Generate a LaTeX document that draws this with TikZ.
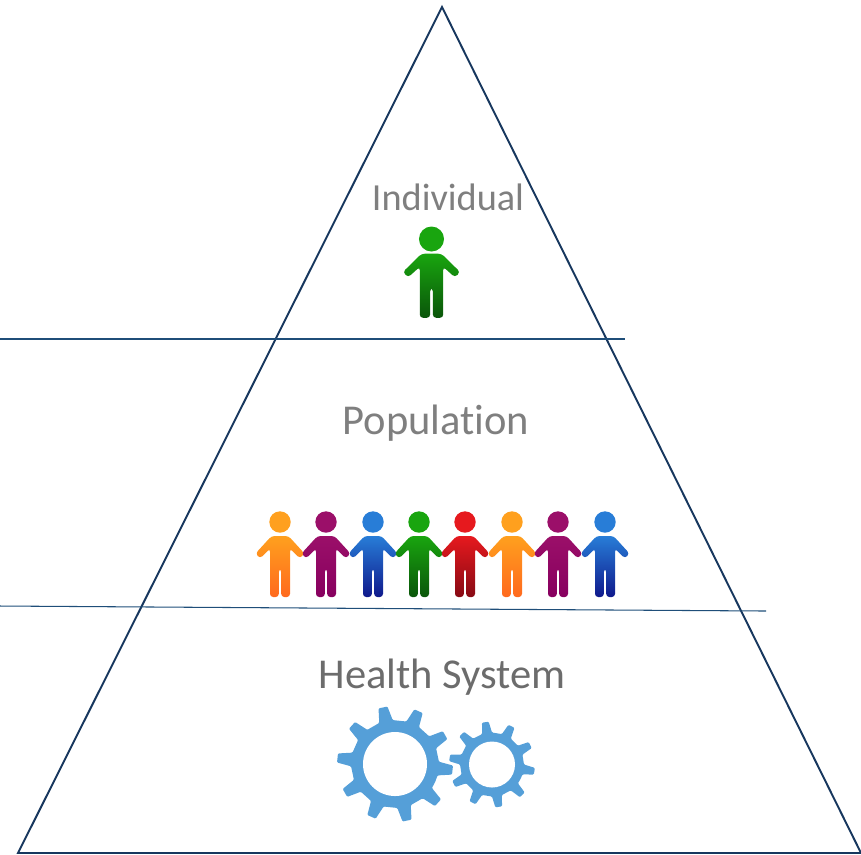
\documentclass[tikz,border=0pt]{standalone}
\usepackage{fontspec}
\setmainfont[Ligatures=NoCommon]{Carlito}
\usepackage{xcolor}
\definecolor{pyramidblue}{RGB}{23,55,94}
\definecolor{levelblue}{RGB}{31,78,121}
\definecolor{labelgray}{RGB}{127,127,127}
\definecolor{gearblue}{RGB}{85,159,216}
\definecolor{orangetop}{RGB}{255,160,30}
\definecolor{orangebot}{RGB}{255,105,30}
\definecolor{purpletop}{RGB}{155,15,105}
\definecolor{purplebot}{RGB}{135,0,95}
\definecolor{bluetop}{RGB}{40,125,215}
\definecolor{bluebot}{RGB}{15,25,140}
\definecolor{greentop}{RGB}{25,165,15}
\definecolor{greenbot}{RGB}{10,85,10}
\definecolor{redtop}{RGB}{230,25,30}
\definecolor{redbot}{RGB}{135,10,20}
\begin{document}
\begin{tikzpicture}[
    level/.style={text=labelgray, inner sep=0pt},
    edge/.style={draw=pyramidblue, line width=0.55pt},
    divider/.style={draw=levelblue, line width=0.3pt},
    person/.pic={
        \foreach \shirt/\headry in {#1} {
            \fill[\shirt top] (0,0) ellipse (0.107 and \headry);
            \shade[top color=\shirt top, bottom color=\shirt bot, rounded corners=0.9pt]
                (-0.085,-0.14) -- (0.085,-0.14) -- (0.245,-0.315) -- (0.20,-0.365) -- (0.10,-0.265)
                -- (0.10,-0.75) -- (0.012,-0.75) -- (0.012,-0.47) -- (-0.012,-0.47) -- (-0.012,-0.75)
                -- (-0.10,-0.75) -- (-0.10,-0.265) -- (-0.20,-0.365) -- (-0.245,-0.315) -- cycle;
        }
    },
    gear/.pic={
        \foreach \tip/\root/\hole/\offset in {#1} {
            \fill[gearblue, rounded corners=0.3pt] (\offset-18:\root)
                \foreach \k in {0,...,9} {
                    -- ({\offset+36*\k-9}:\root) -- ({\offset+36*\k-4.5}:\tip)
                    -- ({\offset+36*\k+4.5}:\tip) -- ({\offset+36*\k+9}:\root)
                } -- cycle;
            \fill[white] (0,0) circle (\hole);
        }
    }
]
    \useasboundingbox (0,0) rectangle (8.61,-8.54);

    % pyramid
    \coordinate (apex) at (4.42,-0.07);
    \coordinate (baseleft) at (0.18,-8.53);
    \coordinate (baseright) at (8.61,-8.53);
    \draw[edge] (apex) -- (baseleft) -- (baseright) -- cycle;

    % level lines
    \coordinate (upperstart) at (0,-3.39);
    \coordinate (upperend) at (6.25,-3.39);
    \coordinate (lowerstart) at (0,-6.06);
    \coordinate (lowerend) at (7.66,-6.11);
    \draw[divider] (upperstart) -- (upperend);
    \draw[divider] (lowerstart) -- (lowerend);

    \node[level, font=\fontsize{10.9}{12}\selectfont] (individual) at (4.48,-1.97) {Individual};
    \node[level, font=\fontsize{12.1}{14}\selectfont] (population) at (4.36,-4.23) {Population};
    \node[level, font=\fontsize{12.1}{14}\selectfont, text=labelgray!85!black] (healthsystem) at (4.42,-6.77) {Health System};

    \pic at (4.315,-2.39) [xscale=1.17, yscale=1.05] {person={green/0.119}};
    \foreach \x/\tone in {2.80/orange,3.26/purple,3.73/blue,4.19/green,4.65/red,5.12/orange,5.58/purple,6.05/blue}
        \pic at (\x,-5.22) {person={\tone/0.107}};

    \pic at (3.95,-7.64) {gear={0.58/0.44/0.32/-6}};
    \pic at (4.92,-7.645) {gear={0.43/0.32/0.23/-9}};
\end{tikzpicture}
\end{document}
